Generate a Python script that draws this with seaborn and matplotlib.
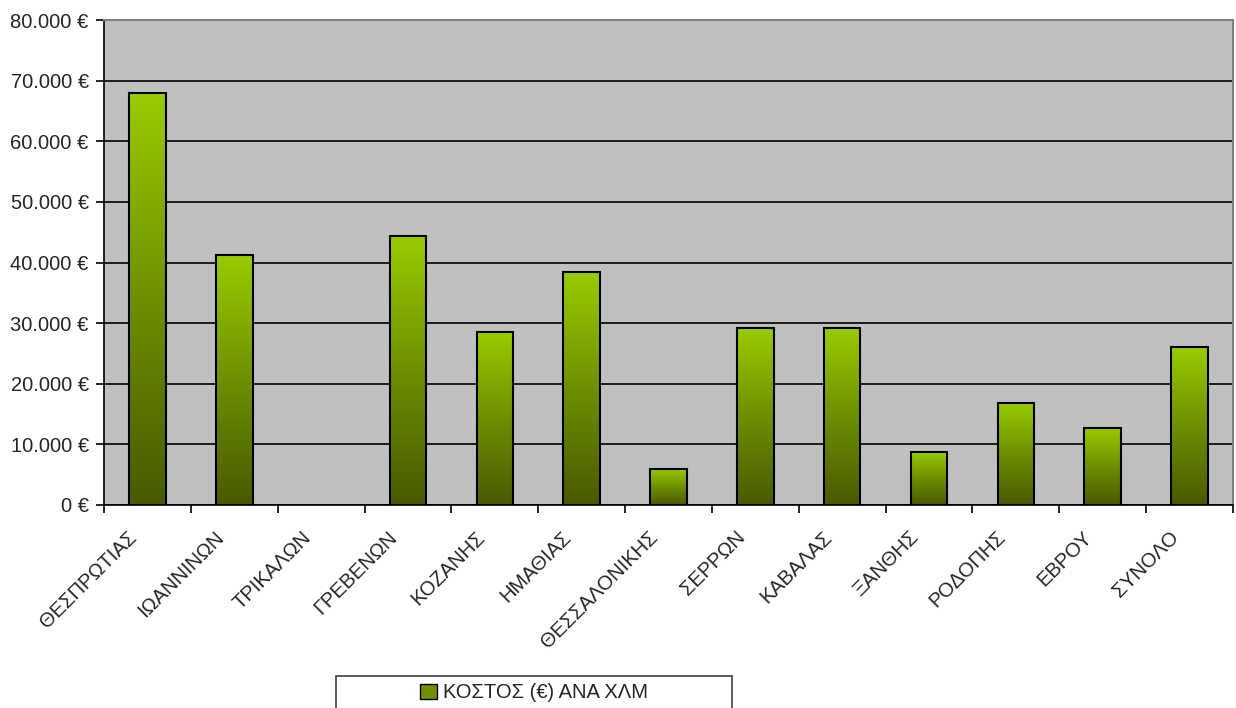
import numpy as np
import pandas as pd
import matplotlib
matplotlib.use("Agg")
import matplotlib.pyplot as plt
import seaborn as sns
from matplotlib.colors import LinearSegmentedColormap
from matplotlib.patches import Rectangle, Patch
from matplotlib.ticker import FuncFormatter, FixedLocator
from matplotlib.transforms import ScaledTranslation

categories = ["ΘΕΣΠΡΩΤΙΑΣ", "ΙΩΑΝΝΙΝΩΝ", "ΤΡΙΚΑΛΩΝ", "ΓΡΕΒΕΝΩΝ", "ΚΟΖΑΝΗΣ",
              "ΗΜΑΘΙΑΣ", "ΘΕΣΣΑΛΟΝΙΚΗΣ", "ΣΕΡΡΩΝ", "ΚΑΒΑΛΑΣ", "ΞΑΝΘΗΣ",
              "ΡΟΔΟΠΗΣ", "ΕΒΡΟΥ", "ΣΥΝΟΛΟ"]
values = [68000, 41250, 0, 44400, 28550, 38450, 5950, 29200, 29200, 8750,
          16850, 12750, 26100]
series_name = "ΚΟΣΤΟΣ (€) ΑΝΑ ΧΛΜ"
y_ticks = [0, 10000, 20000, 30000, 40000, 50000, 60000, 70000, 80000]

sns.set_style("white")
plt.rcParams['font.family'] = ['Liberation Sans', 'DejaVu Sans']

fig = plt.figure(figsize=(12.36, 7.08), dpi=100)
ax = fig.add_axes([104/1236, 1-505/708, (1233-104)/1236, (505-20)/708])
ax.set_facecolor("#C0C0C0")

df = pd.DataFrame({"cat": categories, "val": values})
sns.barplot(data=df, x="cat", y="val", color="#6F9000", width=0.42,
            edgecolor="black", linewidth=1.5, ax=ax, zorder=3)

cmap = LinearSegmentedColormap.from_list("g", ["#485A00", "#6E8F00", "#99CC00"])
grad = np.linspace(0, 1, 256).reshape(-1, 1)
for p in ax.patches:
    x, w, h = p.get_x(), p.get_width(), p.get_height()
    if h <= 0:
        p.set_visible(False)
        continue
    ax.imshow(grad, extent=[x, x + w, 0, h], origin="lower", aspect="auto",
              cmap=cmap, zorder=2.5, interpolation="bilinear")
    p.set_facecolor("none")

ax.set_xlim(-0.5, len(categories) - 0.5)
ax.set_ylim(0, 80000)
ax.set_yticks(y_ticks)
ax.yaxis.set_major_formatter(FuncFormatter(lambda v, _: f"{int(v):,}".replace(",", ".") + " €"))
ax.grid(axis="y", color="black", linewidth=1.2, zorder=1)
ax.set_axisbelow(True)

ax.set_xlabel("")
ax.set_ylabel("")
ax.set_xticks(range(len(categories)))
ax.set_xticklabels(categories, rotation=45, ha="right", rotation_mode="anchor", fontsize=14.5)
ax.xaxis.set_minor_locator(FixedLocator(np.arange(-0.5, len(categories), 1.0)))
ax.tick_params(axis="x", which="major", length=0, pad=14)
ax.tick_params(axis="x", which="minor", length=6, width=1.2, color="black", direction="out", bottom=True)
ax.tick_params(axis="y", length=6, width=1.2, color="black", direction="out", left=True, labelsize=14.5, pad=5)

offset = ScaledTranslation(-0.20, -0.03, fig.dpi_scale_trans)
for lbl in ax.get_xticklabels():
    lbl.set_transform(lbl.get_transform() + offset)

for s in ["left", "bottom"]:
    ax.spines[s].set_color("black")
    ax.spines[s].set_linewidth(1.2)
for s in ["top", "right"]:
    ax.spines[s].set_color("#808080")
    ax.spines[s].set_linewidth(1.5)
    ax.spines[s].set_visible(True)

# legend box
fig.patches.append(Rectangle((336/1236, -0.01), 396/1236, (708-676)/708 + 0.01,
                             transform=fig.transFigure, facecolor="white",
                             edgecolor="#404040", linewidth=1.2))
fig.legend(handles=[Patch(facecolor="#6F9000", edgecolor="black", label=series_name)],
           loc="center", bbox_to_anchor=(534/1236, 1-693/708), frameon=False,
           fontsize=14.5, handlelength=0.8, handleheight=0.8, handletextpad=0.3)

fig.savefig("out.png", dpi=100)
